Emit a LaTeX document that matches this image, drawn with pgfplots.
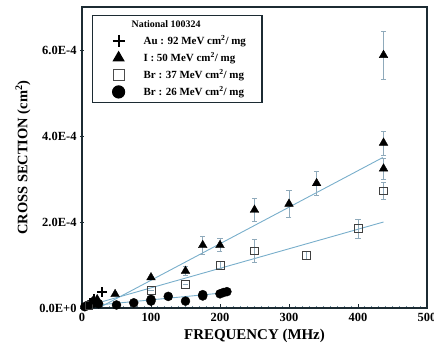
\documentclass[border=0pt]{standalone}
\usepackage{fontspec}
\setmainfont{Liberation Serif}
\usepackage{pgfplots}
\pgfplotsset{compat=1.18}
\definecolor{framecol}{HTML}{1C2B33}
\definecolor{fitcol}{HTML}{78AECB}
\definecolor{errcol}{HTML}{8FAABB}
\definecolor{tickcol}{HTML}{6F8F9F}
\begin{document}
\begin{tikzpicture}
\useasboundingbox (-82bp,-39bp) rectangle (352bp,308bp);
\begin{axis}[
  at={(0,0)}, anchor=south west,
  scale only axis, width=345bp, height=301bp,
  xmin=0, xmax=500, ymin=0, ymax=7e-4,
  axis line style={framecol, line width=1.6pt},
  xtick={0,100,200,300,400,500},
  minor x tick num=9,
  ytick={0,2e-4,4e-4,6e-4},
  yticklabels={0.0E+0,2.0E-4,4.0E-4,6.0E-4},
  scaled y ticks=false,
  tick style={framecol, line width=0.6pt},
  minor tick style={tickcol, line width=0.9pt},
  major tick length=4bp, minor tick length=2.5bp,
  xtick pos=bottom, ytick pos=left,
  ytick align=center, xtick align=inside,
  ticklabel style={font=\bfseries\fontsize{12.5}{12.5}\selectfont},
  /pgf/number format/assume math mode=true,
  xticklabel style={yshift=-1.5bp},
  xlabel={\bfseries FREQUENCY (MHz)},
  ylabel={\bfseries CROSS SECTION (cm\textsuperscript{2})},
  xlabel style={font=\bfseries\fontsize{15}{15}\selectfont, yshift=-1bp},
  ylabel style={font=\bfseries\fontsize{14.5}{14.5}\selectfont, yshift=2bp},
  legend style={at={(0.029,0.973)}, anchor=north west,
    draw=framecol, line width=1.2pt, fill=white,
    inner xsep=14bp, inner ysep=3bp, row sep=2.5bp,
    font=\bfseries\fontsize{11}{11}\selectfont,
    cells={anchor=west}},
  legend image code/.code={\path[draw=none,fill=none] (0bp,-1bp) rectangle (35bp,1bp); \draw[#1] plot coordinates {(12bp,0bp)};},
  clip=false
]
\addlegendimage{empty legend}
\addlegendentry{\hspace*{-12bp}\fontsize{10}{10}\selectfont National 100324}
\addlegendimage{only marks, mark=+, mark size=6bp, line width=2.2pt, black}
\addlegendentry{Au : 92 MeV cm\textsuperscript{2}/ mg}
\addlegendimage{only marks, mark=triangle*, mark size=6bp, black}
\addlegendentry{I : 50 MeV cm\textsuperscript{2}/ mg}
\addlegendimage{only marks, mark=square, mark size=5.5bp, black!70, line width=0.6pt}
\addlegendentry{Br : 37 MeV cm\textsuperscript{2}/ mg}
\addlegendimage{only marks, mark=*, mark size=6bp, black}
\addlegendentry{Br : 26 MeV cm\textsuperscript{2}/ mg}

% fit lines
\addplot[fitcol, line width=0.9pt, forget plot] coordinates {(30,0.05e-4) (436,3.5e-4)};
\addplot[fitcol, line width=0.9pt, forget plot] coordinates {(30,0.15e-4) (437,2.0e-4)};
\addplot[fitcol, line width=0.9pt, forget plot] coordinates {(30,0.08e-4) (210,0.36e-4)};

% Br 26 (circles)
\addplot[only marks, mark=*, mark size=4.5bp, black, forget plot] coordinates {
 (4,0.03e-4) (8,0.06e-4) (12,0.09e-4) (18,0.12e-4) (24,0.1e-4)
 (50,0.07e-4) (75,0.12e-4) (100,0.16e-4) (100,0.2e-4) (125,0.27e-4) (150,0.16e-4)
 (175,0.28e-4) (175,0.31e-4) (200,0.33e-4) (205,0.36e-4) (210,0.38e-4)};

% Br 37 (open squares)
\addplot[only marks, mark=square, mark size=3.8bp, black!75, line width=0.6pt, forget plot,
  error bars/.cd, y dir=both, y explicit,
  error bar style={errcol, line width=0.6pt},
  error mark options={rotate=90, mark size=2.5bp, errcol, line width=0.6pt}]
  coordinates {
 (10,0.06e-4) +- (0,0)
 (100,0.41e-4) +- (0,0)
 (150,0.55e-4) +- (0,0)
 (200,1.0e-4) +- (0,0.08e-4)
 (250,1.33e-4) +- (0,0.27e-4)
 (325,1.23e-4) +- (0,0.1e-4)
 (400,1.85e-4) +- (0,0.22e-4)
 (437,2.73e-4) +- (0,0.2e-4)};

% I 50 (filled triangles)
\addplot[only marks, mark=triangle*, mark size=5bp, black, forget plot,
  error bars/.cd, y dir=both, y explicit,
  error bar style={errcol, line width=0.6pt},
  error mark options={rotate=90, mark size=2.5bp, errcol, line width=0.6pt}]
  coordinates {
 (15,0.15e-4) +- (0,0)
 (22,0.2e-4) +- (0,0)
 (48,0.32e-4) +- (0,0)
 (100,0.71e-4) +- (0,0)
 (150,0.86e-4) +- (0,0.1e-4)
 (175,1.46e-4) +- (0,0.2e-4)
 (200,1.46e-4) +- (0,0.15e-4)
 (250,2.28e-4) +- (0,0.26e-4)
 (300,2.42e-4) +- (0,0.31e-4)
 (340,2.90e-4) +- (0,0.27e-4)
 (437,5.88e-4) +- (0,0.55e-4)
 (437,3.84e-4) +- (0,0.28e-4)
 (437,3.24e-4) +- (0,0.25e-4)};

% Au 92 (plus)
\addplot[only marks, mark=+, mark size=5bp, line width=2pt, black, forget plot] coordinates {
 (29,0.37e-4) (18,0.22e-4)};
\end{axis}
\end{tikzpicture}
\end{document}
